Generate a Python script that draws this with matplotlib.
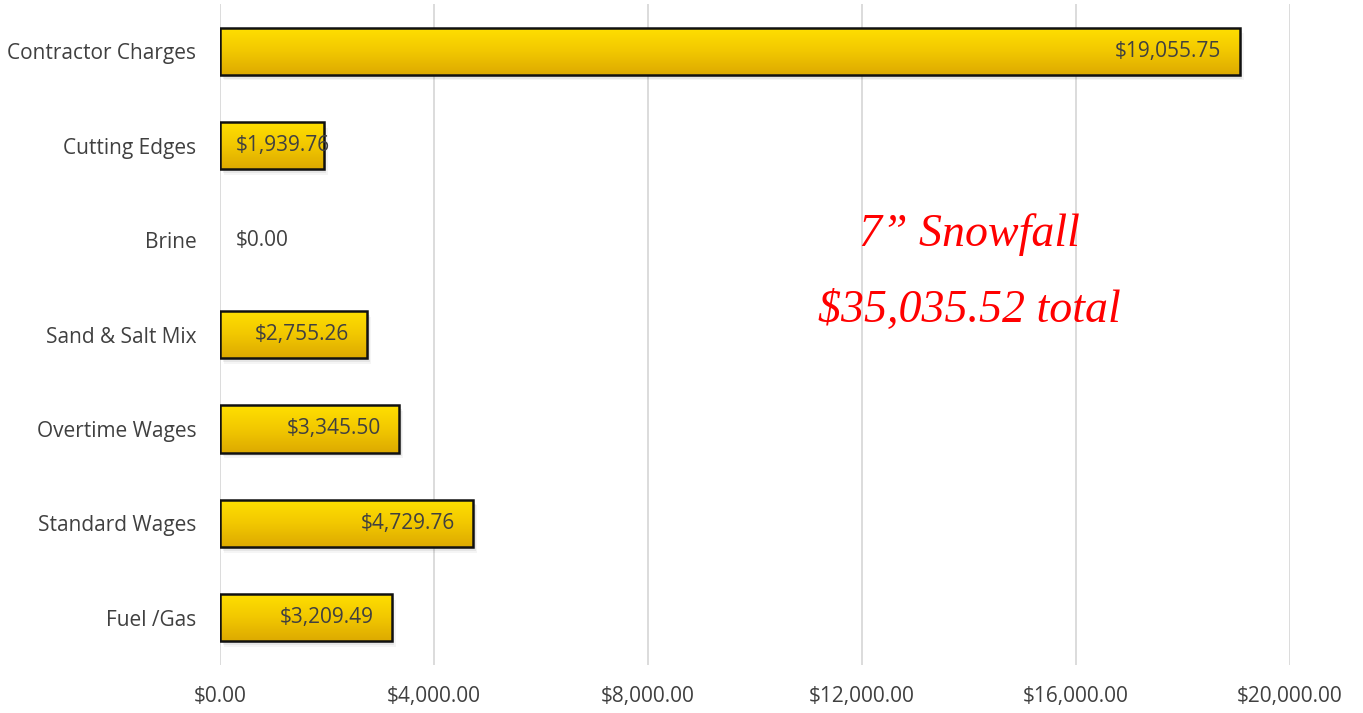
import matplotlib.pyplot as plt
import numpy as np
from matplotlib.ticker import FuncFormatter
from matplotlib.colors import LinearSegmentedColormap

categories = ["Contractor Charges", "Cutting Edges", "Brine", "Sand & Salt Mix",
              "Overtime Wages", "Standard Wages", "Fuel /Gas"]
values = [19055.75, 1939.76, 0.00, 2755.26, 3345.50, 4729.76, 3209.49]
x_ticks = [0, 4000, 8000, 12000, 16000, 20000]
note_lines = ["7\u201d Snowfall", "$35,035.52 total"]

fig = plt.figure(figsize=(13.63, 7.13), dpi=100)
ax = fig.add_axes([0.1614, 0.0673, 0.7851, 0.9271])

n = len(categories)
ypos = np.arange(n)
bh = 0.5

# gradient for bars
grad = np.linspace(0, 1, 64).reshape(-1, 1)
cmap = LinearSegmentedColormap.from_list("gold", ["#FFE000", "#F2C800", "#DDAA00"])

for y, v in zip(ypos, values):
    if v <= 0:
        continue
    # soft shadow
    for k, a in [(1, 0.08), (2, 0.06), (3, 0.04)]:
        ax.barh(y + 0.02 * k, v, height=bh, left=25 * k, color="#000000", alpha=a,
                linewidth=0, zorder=1)
    bars = ax.barh(y, v, height=bh, color="none", edgecolor="#111111",
                   linewidth=1.8, zorder=3)
    im = ax.imshow(grad, cmap=cmap, aspect="auto",
                   extent=[0, v, y + bh / 2, y - bh / 2], zorder=2)
    im.set_clip_path(bars[0])

for y, v in zip(ypos, values):
    txt = "${:,.2f}".format(v)
    if v > 2500:
        ax.annotate(txt, (v, y), xytext=(-13, 0), textcoords="offset points",
                    ha="right", va="center", fontsize=15, color="#404040",
                    family="Open Sans", zorder=5)
    else:
        ax.annotate(txt, (0, y), xytext=(11.5, 0), textcoords="offset points",
                    ha="left", va="center", fontsize=15, color="#404040",
                    family="Open Sans", zorder=5)

ax.set_xlim(0, 20000)
ax.set_ylim(n - 0.5, -0.5)
ax.set_xticks(x_ticks)
ax.xaxis.set_major_formatter(FuncFormatter(lambda x, p: "${:,.2f}".format(x)))
ax.set_yticks(ypos)
ax.set_yticklabels(categories)
ax.tick_params(length=0, colors="#404040", labelsize=15)
ax.tick_params(axis="y", pad=17)
ax.tick_params(axis="x", pad=15)
for lab in ax.get_xticklabels() + ax.get_yticklabels():
    lab.set_family("Open Sans")
ax.grid(axis="x", color="#D9D9D9", linewidth=1.3, zorder=0)
ax.set_axisbelow(True)
for s in ax.spines.values():
    s.set_visible(False)

ax.text(0.7, 0.651, note_lines[0], transform=ax.transAxes, ha="center",
        va="center", fontsize=33, color="#FF0000", style="italic",
        family="Liberation Serif")
ax.text(0.7, 0.536, note_lines[1], transform=ax.transAxes, ha="center",
        va="center", fontsize=33, color="#FF0000", style="italic",
        family="Liberation Serif")

fig.savefig("out.png", dpi=100)
